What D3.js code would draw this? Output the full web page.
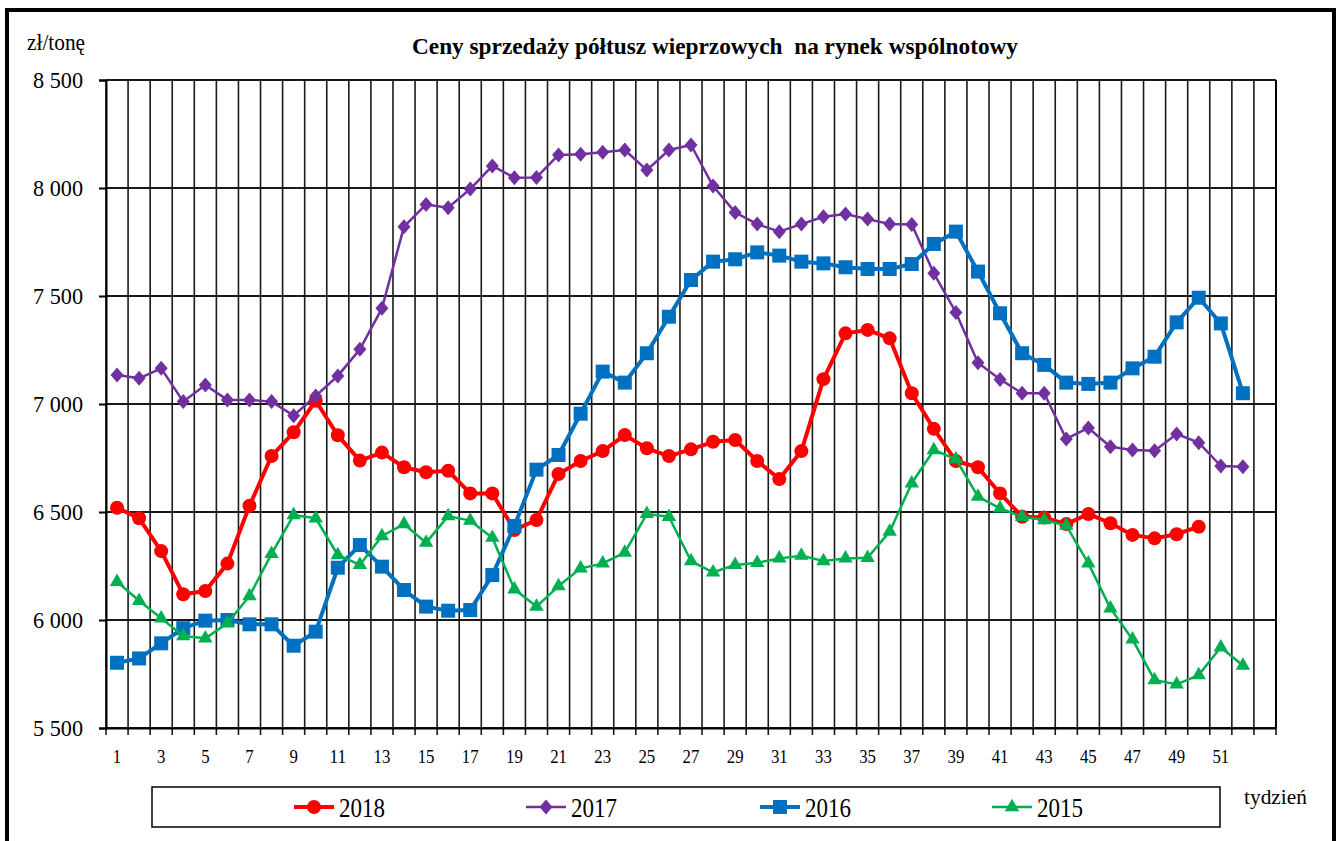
<!DOCTYPE html>
<html>
<head>
<meta charset="utf-8">
<script src="https://cdn.jsdelivr.net/npm/d3@7"></script>
<style>
  body { margin: 0; background: #fff; }
  svg text { font-family: "Liberation Serif", "Times New Roman", Times, serif; fill: #000; }
</style>
</head>
<body>
<svg id="chart" width="1339" height="841"></svg>
<script>
var width = 1339, height = 841;

// weeks 1..53 on the category axis, data up to week 52
var weeks = d3.range(1, 54);
var yTicks = [5500, 6000, 6500, 7000, 7500, 8000, 8500];
var years = ["2018", "2017", "2016", "2015"];

var s2018 = [6520,6471,6319,6119,6134,6261,6529,6759,6869,7015,6855,6738,6775,6707,6684,6691,6586,6586,6417,6463,
             6676,6736,6782,6856,6795,6759,6790,6825,6833,6736,6653,6782,7115,7327,7343,7304,7050,6885,6736,6707,
             6586,6478,6474,6444,6491,6448,6394,6378,6397,6432];
var s2017 = [7134,7119,7165,7011,7088,7019,7019,7011,6946,7037,7130,7253,7443,7821,7924,7909,7995,8102,8048,8049,
             8153,8156,8165,8176,8083,8176,8199,8009,7887,7833,7798,7833,7867,7880,7856,7833,7831,7605,7424,7191,
             7114,7050,7050,6838,6889,6802,6787,6784,6861,6821,6713,6710];
var s2016 = [5802,5822,5892,5962,5997,6000,5980,5980,5881,5946,6242,6347,6247,6139,6062,6043,6046,6208,6435,6696,
             6764,6955,7150,7099,7235,7404,7574,7659,7670,7702,7687,7659,7651,7633,7625,7625,7648,7741,7798,7613,
             7420,7235,7181,7099,7093,7099,7165,7219,7378,7492,7373,7050];
var s2015 = [6177,6089,6008,5926,5915,5985,6111,6306,6486,6471,6301,6255,6389,6444,6358,6481,6460,6381,6142,6062,
             6157,6239,6262,6312,6491,6478,6273,6221,6255,6265,6285,6298,6273,6285,6288,6409,6633,6787,6745,6571,
             6517,6478,6463,6437,6262,6054,5910,5722,5702,5745,5874,5789];

var series = [
  {name: years[0], values: s2018, color: "#FF0000", width: 4,   marker: "circle"},
  {name: years[1], values: s2017, color: "#7030A0", width: 2.5, marker: "diamond"},
  {name: years[2], values: s2016, color: "#0070C0", width: 4,   marker: "square"},
  {name: years[3], values: s2015, color: "#00B050", width: 2.5, marker: "triangle"}
];

var plot = {left: 106, right: 1276, top: 80, bottom: 728};
var serif = "'Liberation Serif', 'Times New Roman', Times, serif";

var svg = d3.select("#chart");

var x = d3.scaleBand().domain(weeks).range([plot.left, plot.right]).paddingInner(0).paddingOuter(0);
var y = d3.scaleLinear().domain([5500, 8500]).range([plot.bottom, plot.top]);

var locale = d3.formatLocale({decimal: ",", thousands: " ", grouping: [3], currency: ["", " zł"]});
var fmt = locale.format(",d");

// outer frame
svg.append("rect")
  .attr("x", 7).attr("y", 10)
  .attr("width", 1327).attr("height", 850)
  .attr("fill", "none").attr("stroke", "#000").attr("stroke-width", 4);

// vertical grid at category boundaries
var bounds = weeks.map(function(w) { return x(w); }).concat([plot.right]);
svg.append("g").attr("class", "vgrid")
  .selectAll("line").data(bounds).enter().append("line")
  .attr("x1", function(d) { return d; }).attr("x2", function(d) { return d; })
  .attr("y1", plot.top).attr("y2", plot.bottom + 7)
  .attr("stroke", "#1a1a1a").attr("stroke-width", 1.6);

// horizontal grid
svg.append("g").attr("class", "hgrid")
  .selectAll("line").data(yTicks).enter().append("line")
  .attr("x1", plot.left).attr("x2", plot.right)
  .attr("y1", function(d) { return y(d); }).attr("y2", function(d) { return y(d); })
  .attr("stroke", "#1a1a1a").attr("stroke-width", 2);

// y axis
var yAxis = svg.append("g")
  .attr("transform", "translate(" + plot.left + ",0)")
  .attr("font-family", serif)
  .call(d3.axisLeft(y).tickValues(yTicks).tickFormat(fmt).tickSize(7).tickPadding(16));
yAxis.attr("font-family", serif);
yAxis.select(".domain").attr("stroke", "#000").attr("stroke-width", 2);
yAxis.selectAll(".tick line").attr("stroke", "#000").attr("stroke-width", 2);
yAxis.selectAll(".tick text")
  .style("font-family", serif)
  .style("font-size", "23px").attr("dy", "0.33em")
  .attr("textLength", 50).attr("lengthAdjust", "spacingAndGlyphs");

// x axis labels (odd weeks), centred in each band
var xAxis = svg.append("g")
  .attr("transform", "translate(0," + plot.bottom + ")")
  .call(d3.axisBottom(x).tickValues(weeks.filter(function(w) { return w % 2 === 1 && w < 53; })).tickSize(0).tickPadding(22));
xAxis.attr("font-family", serif);
xAxis.select(".domain").attr("stroke", "#000").attr("stroke-width", 2);
xAxis.selectAll(".tick text")
  .style("font-family", serif)
  .style("font-size", "19px")
  .each(function() {
    var t = d3.select(this);
    t.attr("textLength", String(t.text()).length * 8.4).attr("lengthAdjust", "spacingAndGlyphs");
  });

// plot right border
svg.append("line")
  .attr("x1", plot.right).attr("x2", plot.right)
  .attr("y1", plot.top).attr("y2", plot.bottom)
  .attr("stroke", "#000").attr("stroke-width", 2);

// markers
var diamondPath = "M0,-7.5L6.5,0L0,7.5L-6.5,0Z";
function markerPath(type) {
  if (type === "diamond") return diamondPath;
  if (type === "square") return d3.symbol().type(d3.symbolSquare).size(196)();
  if (type === "triangle") return d3.symbol().type(d3.symbolTriangle).size(90)();
  return d3.symbol().type(d3.symbolCircle).size(Math.PI * 49)();
}

var line = d3.line()
  .x(function(d, i) { return x(weeks[i]) + x.bandwidth() / 2; })
  .y(function(d) { return y(d); });

series.forEach(function(s) {
  var g = svg.append("g").attr("class", "series s" + s.name);
  g.append("path")
    .attr("d", line(s.values))
    .attr("fill", "none")
    .attr("stroke", s.color)
    .attr("stroke-width", s.width)
    .attr("stroke-linejoin", "round");
  g.selectAll("path.mk").data(s.values).enter().append("path")
    .attr("class", "mk")
    .attr("d", markerPath(s.marker))
    .attr("transform", function(d, i) {
      return "translate(" + (x(weeks[i]) + x.bandwidth() / 2) + "," + y(d) + ")";
    })
    .attr("fill", s.color);
});

// title and axis captions
svg.append("text")
  .attr("x", 715).attr("y", 54)
  .attr("text-anchor", "middle")
  .attr("textLength", 606).attr("lengthAdjust", "spacingAndGlyphs")
  .style("font-size", "23px").style("font-weight", "bold")
  .style("white-space", "pre")
  .text("Ceny sprzedaży półtusz wieprzowych  na rynek wspólnotowy");

svg.append("text")
  .attr("x", 27).attr("y", 50)
  .attr("textLength", 58).attr("lengthAdjust", "spacingAndGlyphs")
  .style("font-size", "23px")
  .text("zł/tonę");

svg.append("text")
  .attr("x", 1244).attr("y", 804)
  .attr("textLength", 63).attr("lengthAdjust", "spacingAndGlyphs")
  .style("font-size", "22px")
  .text("tydzień");

// legend
var legend = svg.append("g").attr("class", "legend");
legend.append("rect")
  .attr("x", 152).attr("y", 787).attr("width", 1068).attr("height", 40)
  .attr("fill", "#fff").attr("stroke", "#000").attr("stroke-width", 1.5);

var legendX = [314, 546, 780, 1012];
series.forEach(function(s, i) {
  var cx = legendX[i];
  var item = legend.append("g").attr("transform", "translate(" + cx + ",807)");
  item.append("line")
    .attr("x1", -20).attr("x2", 20)
    .attr("stroke", s.color).attr("stroke-width", s.width);
  item.append("path").attr("d", markerPath(s.marker)).attr("fill", s.color);
  item.append("text")
    .attr("x", 25).attr("y", 10)
    .attr("textLength", 46).attr("lengthAdjust", "spacingAndGlyphs")
    .style("font-size", "27px")
    .text(s.name);
});
</script>
</body>
</html>
